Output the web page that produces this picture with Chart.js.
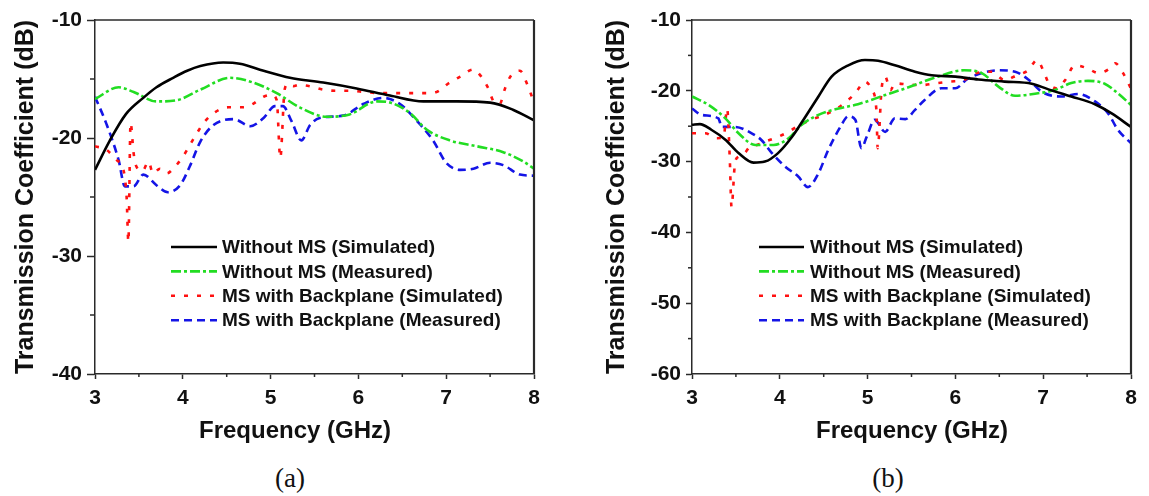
<!DOCTYPE html>
<html><head><meta charset="utf-8">
<script src="https://cdn.jsdelivr.net/npm/chart.js@4"></script>
<style>
html,body{margin:0;padding:0;background:#fff;width:1149px;height:496px;overflow:hidden;}
#ca{position:absolute;left:0;top:0;}
#cb{position:absolute;left:591px;top:0;}
.cap{position:absolute;top:462px;line-height:32px;font-family:"Liberation Serif","Times New Roman",serif;font-size:27px;color:#111;transform:translateX(-50%);}
</style></head><body>
<canvas id="ca" width="570" height="455"></canvas>
<canvas id="cb" width="558" height="455"></canvas>
<div class="cap" style="left:290px">(a)</div>
<div class="cap" style="left:888px">(b)</div>
<script>
// ---------- labels & ticks ----------
const seriesNames = ['Without MS (Simulated)','Without MS (Measured)','MS with Backplane (Simulated)','MS with Backplane (Measured)'];
const freqTicks = [3,4,5,6,7,8];
const dbTicksA = [-10,-20,-30,-40];
const dbTicksB = [-10,-20,-30,-40,-50,-60];
const xTitle = 'Frequency (GHz)';
const yTitle = 'Transmission Coefficient (dB)';

// ---------- (a) ----------
const aNoMSSim_f  = [3.0,3.17,3.35,3.55,3.7,3.89,4.05,4.2,4.46,4.65,4.92,5.22,5.6,5.98,6.36,6.74,7.12,7.5,7.76,8.0];
const aNoMSSim_dB = [-22.7,-20.2,-18.0,-16.6,-15.7,-14.9,-14.3,-13.9,-13.6,-13.7,-14.3,-14.9,-15.3,-15.8,-16.4,-16.9,-16.9,-17.0,-17.6,-18.5];

const aNoMSMeas_f  = [3.0,3.27,3.44,3.7,3.93,4.2,4.54,4.8,5.07,5.33,5.64,5.9,6.21,6.36,6.59,6.78,7.04,7.35,7.65,7.88,8.0];
const aNoMSMeas_dB = [-16.7,-15.7,-16.1,-16.9,-16.8,-15.9,-14.9,-15.3,-16.2,-17.4,-18.2,-18.0,-16.9,-17.0,-17.9,-19.3,-20.2,-20.7,-21.2,-22.0,-22.6];

const aMSSim_f  = [3.0,3.13,3.25,3.32,3.36,3.38,3.405,3.44,3.47,3.54,3.61,3.66,3.74,3.82,3.89,4.0,4.08,4.16,4.25,4.37,4.52,4.69,4.8,4.92,5.01,5.07,5.11,5.16,5.2,5.26,5.32,5.47,5.6,5.75,5.92,6.07,6.25,6.42,6.57,6.74,6.89,7.02,7.16,7.31,7.4,7.48,7.54,7.61,7.67,7.73,7.84,7.92,8.0];
const aMSSim_dB = [-20.7,-21.0,-21.9,-22.6,-25.0,-28.8,-18.7,-21.3,-22.4,-22.8,-22.0,-23.0,-22.6,-23.0,-22.6,-21.6,-20.6,-19.6,-18.6,-17.8,-17.4,-17.4,-17.1,-16.5,-16.35,-16.8,-21.7,-15.9,-15.4,-15.6,-15.5,-15.65,-15.9,-16.0,-16.0,-16.1,-16.2,-16.2,-16.2,-16.2,-16.1,-15.4,-14.8,-14.2,-14.8,-15.8,-16.9,-17.1,-15.8,-14.8,-14.3,-15.4,-17.0];

const aMSMeas_f  = [3.0,3.13,3.27,3.34,3.44,3.55,3.7,3.83,3.97,4.08,4.2,4.35,4.58,4.77,4.92,5.05,5.14,5.24,5.35,5.45,5.56,5.83,6.06,6.28,6.47,6.66,6.85,7.0,7.16,7.31,7.5,7.65,7.84,8.0];
const aMSMeas_dB = [-16.5,-18.8,-21.9,-24.1,-24.1,-23.1,-24.0,-24.6,-24.0,-22.4,-20.3,-18.9,-18.4,-19.0,-18.3,-17.3,-17.3,-18.6,-20.2,-18.9,-18.3,-18.1,-17.1,-16.6,-17.1,-18.5,-20.2,-22.1,-22.7,-22.6,-22.1,-22.3,-23.1,-23.2];

// ---------- (b) ----------
const bNoMSSim_f  = [3.0,3.09,3.22,3.38,3.53,3.7,3.83,3.98,4.14,4.29,4.44,4.59,4.78,4.97,5.12,5.31,5.54,5.73,6.0,6.26,6.56,6.87,7.06,7.32,7.59,7.78,8.0];
const bNoMSSim_dB = [-24.8,-24.7,-25.5,-26.9,-28.8,-30.15,-30.0,-28.8,-26.5,-23.7,-20.8,-18.0,-16.4,-15.65,-15.75,-16.4,-17.3,-17.8,-18.0,-18.4,-18.7,-19.0,-19.8,-20.8,-21.9,-23.2,-25.1];

const bNoMSMeas_f  = [3.0,3.19,3.38,3.53,3.72,3.93,4.1,4.25,4.44,4.67,4.89,5.2,5.43,5.8,6.1,6.3,6.49,6.68,6.94,7.13,7.32,7.51,7.7,7.85,8.0];
const bNoMSMeas_dB = [-20.8,-22.0,-23.9,-26.0,-27.65,-27.65,-26.7,-24.8,-23.4,-22.5,-21.9,-20.6,-19.65,-18.0,-17.1,-17.5,-19.4,-20.7,-20.35,-19.9,-18.9,-18.6,-19.0,-20.35,-22.0];

const bMSSim_f  = [3.0,3.15,3.28,3.36,3.4,3.43,3.45,3.49,3.53,3.6,3.66,3.74,3.83,3.98,4.1,4.23,4.38,4.51,4.65,4.76,4.86,4.97,5.05,5.1,5.115,5.16,5.2,5.26,5.31,5.46,5.61,5.77,5.94,6.09,6.24,6.41,6.56,6.7,6.83,6.93,7.0,7.06,7.15,7.25,7.36,7.5,7.63,7.74,7.82,7.91,8.0];
const bMSSim_dB = [-26.0,-26.0,-26.7,-26.6,-22.5,-29.5,-36.4,-30.2,-29.3,-28.8,-27.9,-27.65,-27.2,-26.5,-25.8,-24.8,-24.0,-23.4,-22.5,-21.5,-20.35,-18.7,-19.9,-22.7,-28.1,-19.65,-18.0,-19.9,-18.95,-19.1,-19.2,-18.95,-18.7,-18.5,-17.5,-17.3,-18.5,-17.8,-17.1,-15.65,-17.1,-18.85,-19.65,-18.5,-16.4,-16.8,-17.5,-17.0,-16.1,-17.5,-19.7];

const bMSMeas_f  = [3.0,3.11,3.3,3.34,3.49,3.68,3.79,3.91,4.06,4.21,4.32,4.44,4.55,4.69,4.78,4.86,4.93,4.99,5.08,5.2,5.31,5.43,5.54,5.65,5.84,6.0,6.13,6.3,6.49,6.68,6.83,6.98,7.1,7.21,7.4,7.59,7.74,7.85,8.0];
const bMSMeas_dB = [-22.5,-23.4,-23.9,-25.1,-25.1,-26.0,-26.95,-28.8,-30.7,-32.1,-33.6,-31.65,-28.4,-25.1,-23.6,-24.1,-28.1,-26.5,-24.1,-25.8,-23.9,-24.0,-22.7,-21.3,-19.65,-19.65,-18.4,-17.5,-17.1,-17.3,-18.4,-20.1,-20.7,-20.8,-20.45,-21.5,-23.2,-25.5,-27.4];

// ---------- helpers ----------
const FONT = '"Liberation Sans", Arial, Helvetica, sans-serif';
Chart.defaults.font.family = FONT;
Chart.defaults.color = '#111';
const pts = (f, v) => f.map((x, i) => ({x, y: v[i]}));
const styles = [
  {borderColor:'#000000', borderWidth:2.6, borderDash:[]},
  {borderColor:'#22dd22', borderWidth:2.6, borderDash:[10,3,3,3]},
  {borderColor:'#ff1111', borderWidth:2.6, borderDash:[4,9]},
  {borderColor:'#1414e6', borderWidth:2.6, borderDash:[8,5]}
];
function mkDatasets(list){
  return list.map((d, i) => Object.assign({
    label: seriesNames[i], data: pts(d[0], d[1]),
    pointRadius: 0, fill: false, cubicInterpolationMode: 'monotone'
  }, styles[i]));
}

const decor = {
  id: 'decor',
  afterDraw(chart, args, o){
    const {ctx, chartArea: ca, scales: {x, y}} = chart;
    const ln = (x1,y1,x2,y2)=>{ctx.beginPath();ctx.moveTo(x1,y1);ctx.lineTo(x2,y2);ctx.stroke();};
    ctx.save();
    ctx.strokeStyle = '#2a2a2a';
    ctx.lineWidth = 1.5; ln(ca.left, ca.top, ca.right, ca.top);
    ctx.lineWidth = 2.2; ln(ca.right, ca.top, ca.right, ca.bottom);
    ctx.lineWidth = 1.5;
    const xt = o.xTicks, yt = o.yTicks;
    for (let i = 0; i < xt.length - 1; i++){
      const px = x.getPixelForValue((xt[i] + xt[i+1]) / 2);
      ln(px, ca.bottom, px, ca.bottom + o.xMinor);
    }
    for (let i = 0; i < yt.length - 1; i++){
      const py = y.getPixelForValue((yt[i] + yt[i+1]) / 2);
      ln(ca.left - o.yMinor, py, ca.left, py);
    }
    // x title
    ctx.fillStyle = '#111';
    ctx.textAlign = 'center'; ctx.textBaseline = 'middle';
    ctx.font = 'bold 24px ' + FONT;
    ctx.fillText(xTitle, o.xTitleX, o.xTitleY);
    // legend
    chart.data.datasets.forEach((ds, i) => {
      const yy = o.legY + i * o.legDY;
      ctx.strokeStyle = ds.borderColor; ctx.lineWidth = ds.borderWidth;
      ctx.setLineDash(ds.borderDash || []);
      ln(ca.left + o.legX0, yy, ca.left + o.legX1, yy);
      ctx.setLineDash([]);
      ctx.fillStyle = '#111'; ctx.textAlign = 'left';
      ctx.font = 'bold 19px ' + FONT;
      ctx.fillText(ds.label, ca.left + o.legX2, yy + 1);
    });
    ctx.restore();
  }
};

function mkChart(id, datasets, yTicks, yW, padRight, yTickLen, yPad, deco){
  const H = 455, bottom = 374;
  return new Chart(document.getElementById(id), {
    type: 'line',
    data: {datasets},
    plugins: [decor],
    options: {
      responsive: false, animation: false,
      layout: {padding: {left: 0, top: 20, right: padRight, bottom: 0}},
      plugins: {legend: {display: false}, tooltip: {enabled: false}, decor: deco},
      scales: {
        x: {
          type: 'linear', min: 3, max: 8,
          afterBuildTicks: s => { s.ticks = freqTicks.map(v => ({value: v})); },
          afterFit: s => { s.height = H - bottom; s.paddingLeft = s.paddingRight = s.paddingTop = s.paddingBottom = 0; },
          grid: {drawOnChartArea: false, tickLength: 5, tickColor: '#2a2a2a', tickWidth: 1.5},
          border: {display: true, color: '#2a2a2a', width: 1.5},
          ticks: {font: {size: 21, weight: 'bold'}, color: '#111', padding: 7, maxRotation: 0,
                  callback: v => String(v)}
        },
        y: {
          type: 'linear', min: yTicks[yTicks.length - 1], max: yTicks[0],
          afterBuildTicks: s => { s.ticks = yTicks.slice().reverse().map(v => ({value: v})); },
          afterFit: s => { s.width = yW; s.paddingLeft = s.paddingRight = s.paddingTop = s.paddingBottom = 0; },
          grid: {drawOnChartArea: false, tickLength: yTickLen, tickColor: '#2a2a2a', tickWidth: 1.5},
          border: {display: true, color: '#2a2a2a', width: 1.5},
          ticks: {font: {size: 21, weight: 'bold'}, color: '#111', padding: yPad,
                  callback: v => String(v)},
          title: {display: true, text: yTitle, color: '#111', font: {size: 25, weight: 'bold'}, padding: {top: 11, bottom: 0}}
        }
      }
    }
  });
}

mkChart('ca', mkDatasets([[aNoMSSim_f,aNoMSSim_dB],[aNoMSMeas_f,aNoMSMeas_dB],[aMSSim_f,aMSSim_dB],[aMSMeas_f,aMSMeas_dB]]),
  dbTicksA, 95, 36, 8, 5,
  {xTicks: freqTicks, yTicks: dbTicksA, xMinor: 3, yMinor: 5, xTitleX: 295, xTitleY: 431,
   legY: 247, legDY: 24.4, legX0: 76, legX1: 122, legX2: 127});
mkChart('cb', mkDatasets([[bNoMSSim_f,bNoMSSim_dB],[bNoMSMeas_f,bNoMSMeas_dB],[bMSSim_f,bMSSim_dB],[bMSMeas_f,bMSMeas_dB]]),
  dbTicksB, 101, 18, 6, 5,
  {xTicks: freqTicks, yTicks: dbTicksB, xMinor: 3, yMinor: 4, xTitleX: 321, xTitleY: 431,
   legY: 247, legDY: 24.4, legX0: 67, legX1: 112, legX2: 118});
</script></body></html>
